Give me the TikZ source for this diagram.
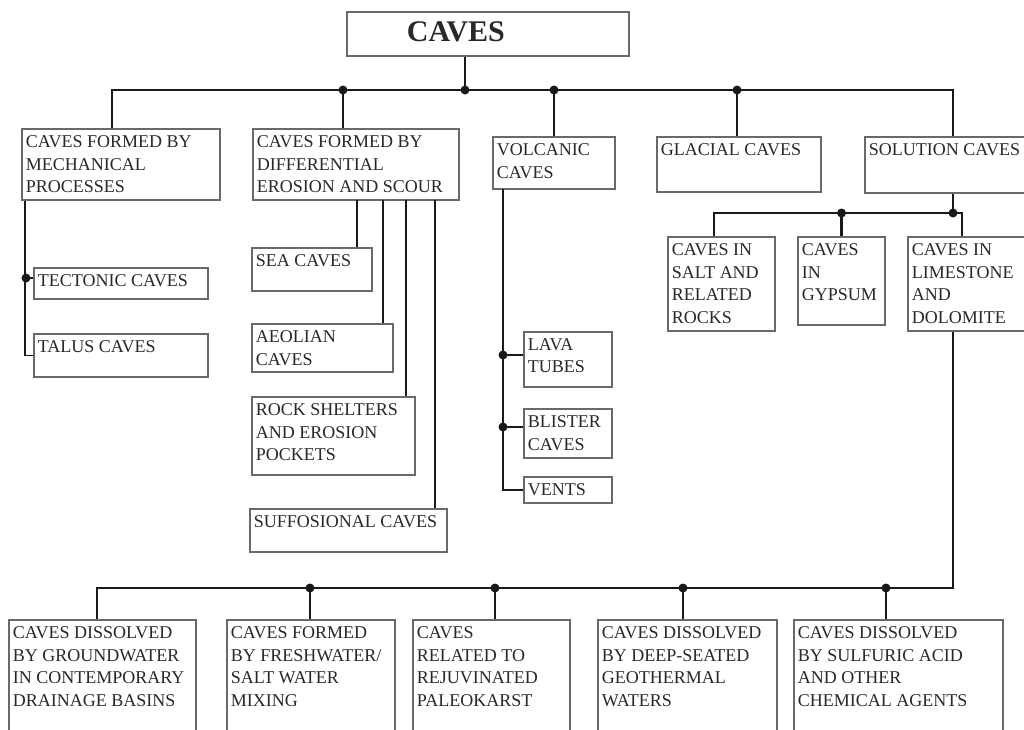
\documentclass[tikz,border=0pt]{standalone}
\usepackage{fontspec}
\setmainfont{Liberation Serif}
\usetikzlibrary{fit}

\definecolor{inkgray}{RGB}{40,40,40}
\definecolor{framegray}{RGB}{105,105,105}
\definecolor{wirecol}{RGB}{25,25,25}

\tikzset{every picture/.style={line width=0.75pt}}
\tikzset{
  box/.style={draw=framegray, line width=0.9pt, inner sep=0pt},
  txt/.style={anchor=north west, align=left, inner xsep=3pt, inner ysep=5pt,
    text=inkgray, font=\fontsize{13.5}{16.9}\selectfont},
  ttl/.style={anchor=west, xshift=45pt, yshift=1.7pt, inner sep=0pt,
    text=inkgray, font=\bfseries\fontsize{22.5}{27}\selectfont},
  wire/.style={draw=wirecol, line width=1.6pt},
  subwire/.style={draw=wirecol, line width=1.4pt},
  dotc/.style={fill=wirecol}
}

\begin{document}
\begin{tikzpicture}[x=0.75pt,y=0.75pt,yscale=-1,xscale=1]
\useasboundingbox (0,0) rectangle (1024,729);
\clip (0,0) rectangle (1024,729);

% Root box
\node[box, fit={(347,12) (629,56)}, label={[ttl]west:CAVES}] (caves) {};

% First level boxes
\node[box, fit={(22,129) (220,200)}, label={[txt]north west:CAVES FORMED BY\\MECHANICAL\\PROCESSES}] (mech) {};
\node[box, fit={(253,129) (459,200)}, label={[txt]north west:CAVES FORMED BY\\DIFFERENTIAL\\EROSION AND SCOUR}] (diff) {};
\node[box, fit={(493,137) (615,189)}, label={[txt]north west:VOLCANIC\\CAVES}] (volc) {};
\node[box, fit={(657,137) (821,192)}, label={[txt]north west:GLACIAL CAVES}] (glac) {};
\node[box, fit={(865,137) (1041,193)}, label={[txt]north west:SOLUTION CAVES}] (sol) {};

% Mechanical processes
\node[box, fit={(34,268) (208,299)}, label={[txt]north west:TECTONIC CAVES}] (tect) {};
\node[box, fit={(34,334) (208,377)}, label={[txt]north west:TALUS CAVES}] (talus) {};

% Differential erosion and scour
\node[box, fit={(252,248) (372,291)}, label={[txt]north west:SEA CAVES}] (sea) {};
\node[box, fit={(252,324) (393,372)}, label={[txt]north west:AEOLIAN\\CAVES}] (aeol) {};
\node[box, fit={(252,397) (415,475)}, label={[txt]north west:ROCK SHELTERS\\AND EROSION\\POCKETS}] (rock) {};
\node[box, fit={(250,509) (447,552)}, label={[txt]north west:SUFFOSIONAL CAVES}] (suff) {};

% Volcanic
\node[box, fit={(524,332) (612,387)}, label={[txt]north west:LAVA\\TUBES}] (lava) {};
\node[box, fit={(524,409) (612,458)}, label={[txt]north west:BLISTER\\CAVES}] (blist) {};
\node[box, fit={(524,477) (612,503)}, label={[txt]north west:VENTS}] (vents) {};

% Solution
\node[box, fit={(668,237) (775,331)}, label={[txt]north west:CAVES IN\\SALT AND\\RELATED\\ROCKS}] (salt) {};
\node[box, fit={(798,237) (885,325)}, label={[txt]north west:CAVES\\IN\\GYPSUM}] (gyp) {};
\node[box, fit={(908,237) (1041,331)}, label={[txt]north west:CAVES IN\\LIMESTONE\\AND\\DOLOMITE}] (lime) {};

% Limestone and dolomite
\node[box, fit={(9,620) (196,745)}, label={[txt]north west:CAVES DISSOLVED\\BY GROUNDWATER\\IN CONTEMPORARY\\DRAINAGE BASINS}] (g1) {};
\node[box, fit={(227,620) (395,745)}, label={[txt]north west:CAVES FORMED\\BY FRESHWATER/\\SALT WATER\\MIXING}] (g2) {};
\node[box, fit={(413,620) (570,745)}, label={[txt]north west:CAVES\\RELATED TO\\REJUVINATED\\PALEOKARST}] (g3) {};
\node[box, fit={(598,620) (777,745)}, label={[txt]north west:CAVES DISSOLVED\\BY DEEP-SEATED\\GEOTHERMAL\\WATERS}] (g4) {};
\node[box, fit={(794,620) (1003,745)}, label={[txt]north west:CAVES DISSOLVED\\BY SULFURIC ACID\\AND OTHER\\CHEMICAL AGENTS}] (g5) {};

% Main bus
\coordinate (top) at (465,90);
\foreach \n/\x in {b1/112,b2/343,b3/554,b4/737,b5/953} \coordinate (\n) at (\x,90);
\draw[wire] (caves.south -| top) -- (top);
\draw[wire] (b1 |- mech.north) -- (b1) -- (b5) -- (b5 |- sol.north);
\draw[wire] (b2) -- (b2 |- diff.north);
\draw[wire] (b3) -- (b3 |- volc.north);
\draw[wire] (b4) -- (b4 |- glac.north);
\foreach \p in {b2,top,b3,b4} \fill[dotc] (\p) circle (4.5);

% Mechanical branch
\coordinate (m0) at ([xshift=3pt]mech.south west);
\coordinate (m1) at (26,278);
\draw[subwire] (m0) |- (talus.west);
\draw[subwire] (m1) -- (m1 -| tect.west);
\fill[dotc] (m1) circle (4.5);

% Differential branch
\foreach \n/\x in {d1/357,d2/383,d3/406,d4/435} \coordinate (\n) at (\x,200);
\draw[wire] (d1) -- (d1 |- sea.north);
\draw[wire] (d2) -- (d2 |- aeol.north);
\draw[wire] (d3) -- (d3 |- rock.north);
\draw[wire] (d4) -- (d4 |- suff.north);

% Volcanic branch
\coordinate (v0) at (503,189);
\coordinate (v1) at (503,355);
\coordinate (v2) at (503,427);
\draw[subwire] (v0) |- (vents.west);
\draw[subwire] (v1) -- (v1 -| lava.west);
\draw[subwire] (v2) -- (v2 -| blist.west);
\foreach \p in {v1,v2} \fill[dotc] (\p) circle (4.5);

% Solution branch
\coordinate (s0) at (953,213);
\coordinate (s1) at (714,213);
\coordinate (s2) at (962,213);
\coordinate (s3) at (gyp.north |- s0);
\draw[wire] (sol.south) -- (s0);
\draw[wire] (s1 |- salt.north) -- (s1) -- (s2) -- (s2 |- lime.north);
\draw[wire] (s3) -- (gyp.north);
\foreach \p in {s0,s3} \fill[dotc] (\p) circle (4.5);

% Bottom bus
\coordinate (l0) at (953,588);
\foreach \n/\x in {q1/97,q2/310,q3/495,q4/683,q5/886} \coordinate (\n) at (\x,588);
\draw[wire] (l0 |- lime.south) -- (l0) -- (q1) -- (q1 |- g1.north);
\foreach \q/\g in {q2/g2,q3/g3,q4/g4,q5/g5} {
  \draw[wire] (\q) -- (\q |- \g.north);
  \fill[dotc] (\q) circle (4.5);
}

\end{tikzpicture}
\end{document}
